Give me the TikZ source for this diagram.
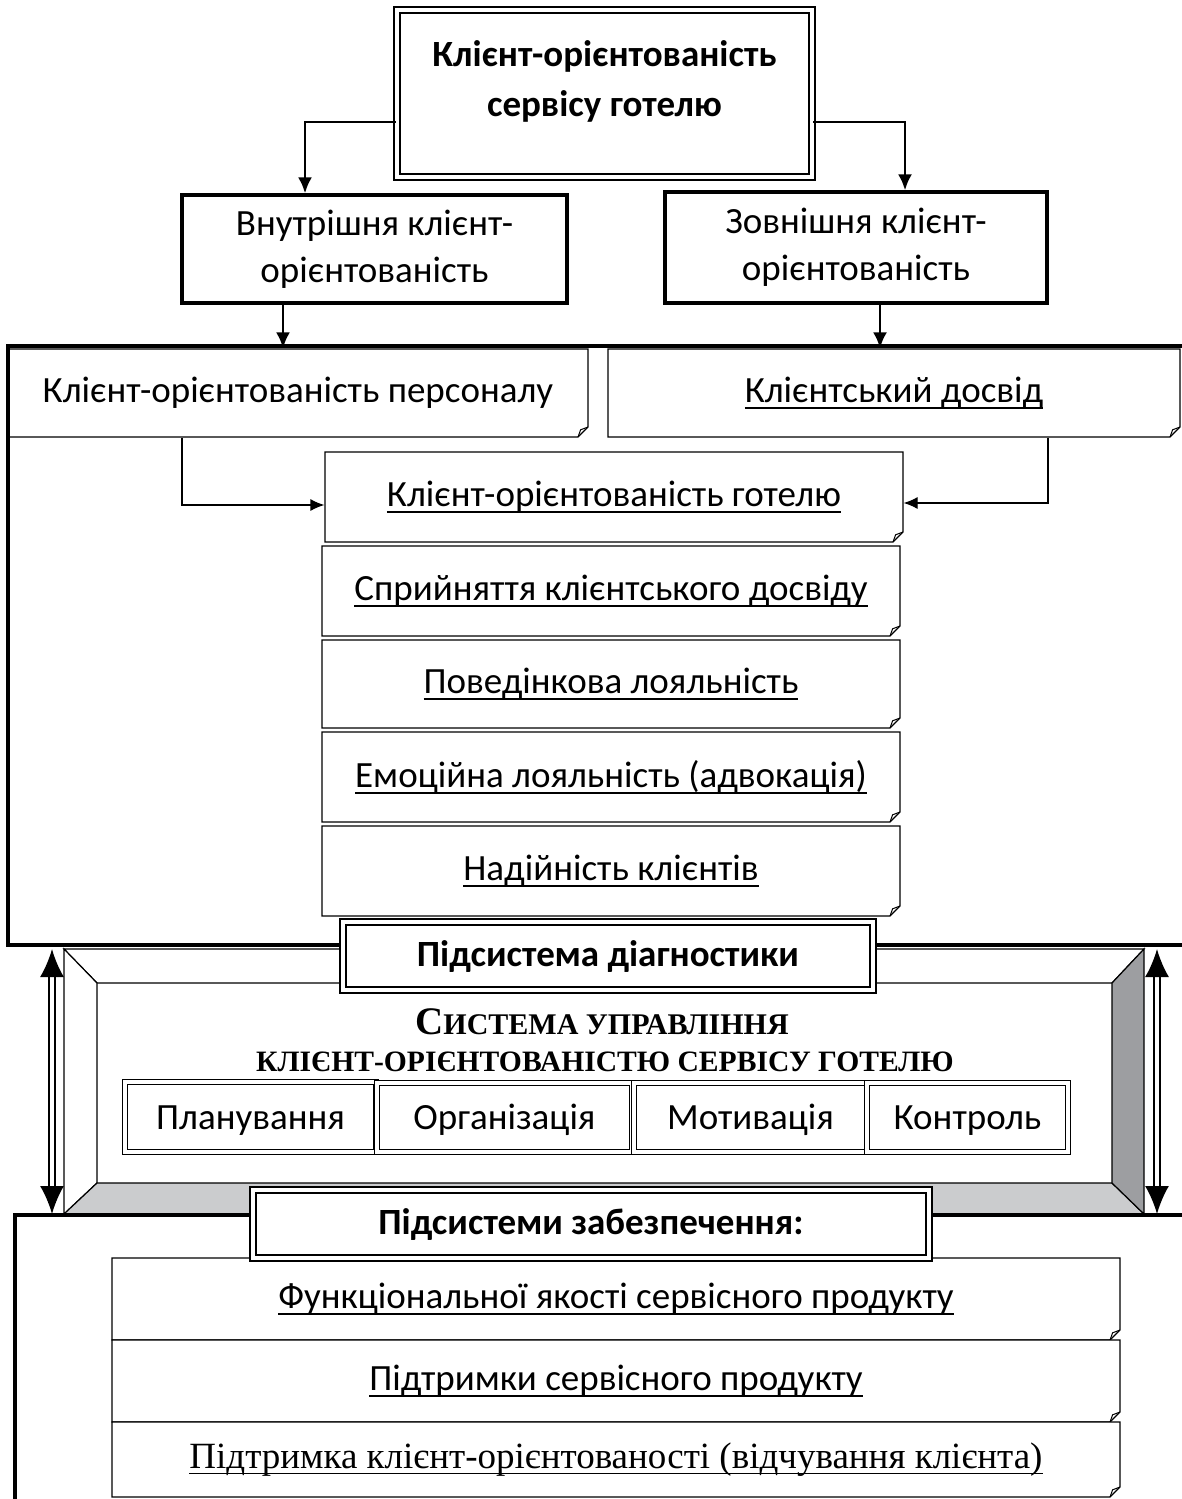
\documentclass[tikz,border=0pt]{standalone}
\usepackage{fontspec}
\setmainfont{Carlito}
\newfontfamily\timesfont{Liberation Serif}
\usepackage{xcolor}
\usetikzlibrary{arrows.meta}
\usetikzlibrary{shapes.misc}

\definecolor{bevlight}{RGB}{203,204,206}
\definecolor{bevdark}{RGB}{157,158,161}

\newcommand{\uln}[1]{\setbox0=\hbox{#1}\rlap{\rule[-3pt]{\wd0}{0.9pt}}\box0}

\tikzset{
  txt/.style={font=\fontsize{18.5}{23.5}\selectfont},
  boldtxt/.style={font=\bfseries\fontsize{18.5}{23.5}\selectfont},
}

\begin{document}
\begin{tikzpicture}[x=0.5pt,y=-0.5pt,
  frame/.style={line width=2pt},
  thickbox/.style={draw,line width=1.6pt,fill=white,align=center,txt},
  dblbox/.style={draw,line width=1.1pt,double,double distance=1.6pt,fill=white,inner sep=0pt},
  rowbox/.style={draw,line width=0.9pt,double,double distance=1.6pt,fill=white,inner sep=0pt,txt,
    text height=13pt,text depth=1pt},
  note/.style={draw,line width=0.6pt,fill=white,inner sep=0pt,txt,
    chamfered rectangle,chamfered rectangle corners=south east,chamfered rectangle sep=2.5pt,
    path picture={\draw[line width=0.5pt] ([xshift=-5pt]path picture bounding box.south east)
      -- ++(1.3pt,3.6pt) -- ([yshift=5pt]path picture bounding box.south east);}},
  conn/.style={line width=1.4pt,-{Latex[length=8pt,width=7pt]}},
  link/.style={line width=0.6pt,-{Latex[length=7pt,width=6pt]}},
  updown/.style={line width=1pt,double,double distance=1.6pt,
    {Latex[length=14pt,width=12pt]}-{Latex[length=14pt,width=12pt]}}]
		\useasboundingbox (0,0) rectangle (1182,1499);
		% upper part
		\node[dblbox,minimum width=207.5pt,minimum height=83.5pt,
		  label={[boldtxt,align=center,yshift=6pt,font=\bfseries\fontsize{18.5}{25}\selectfont]center:{Клієнт-орієнтованість\\сервісу готелю}}] (top) at (604.5,93.5) {};
		\node[thickbox,minimum width=192.5pt,minimum height=54pt] (inner) at (374.5,249) {Внутрішня клієнт-\\орієнтованість};
		\node[thickbox,minimum width=191pt,minimum height=55.5pt] (outer) at (856,247.5) {Зовнішня клієнт-\\орієнтованість};
		\draw[conn] (top.west |- 0,122) -| (inner.north -| 305,0);
		\draw[conn] (top.east |- 0,122) -| (outer.north -| 905,0);
		\node[note,minimum width=290pt,minimum height=44pt] (pers) at (298,393) {Клієнт-орієнтованість персоналу};
		\node[note,minimum width=286pt,minimum height=44pt] (exp) at (894,393) {\uln{Клієнтський досвід}};
		\node[note,minimum width=289pt,minimum height=45pt] (hotel) at (614,497) {\uln{Клієнт-орієнтованість готелю}};
		\node[note,minimum width=289pt,minimum height=45pt] (perc) at (611,591) {\uln{Сприйняття клієнтського досвіду}};
		\node[note,minimum width=289pt,minimum height=44pt] (behav) at (611,684) {\uln{Поведінкова лояльність}};
		\node[note,minimum width=289pt,minimum height=45pt] (emo) at (611,777) {\uln{Емоційна лояльність (адвокація)}};
		\node[note,minimum width=289pt,minimum height=45pt] (trust) at (611,871) {\uln{Надійність клієнтів}};
		\draw[conn] (inner.south -| 283,0) -- (pers.north -| 283,0);
		\draw[conn] (outer.south -| 880,0) -- (exp.north -| 880,0);
		\draw[link] (pers.south -| 182,0) |- (hotel.west |- 0,505);
		\draw[link] (exp.south -| 1048,0) |- (hotel.east |- 0,503);
		% management system frame
		\filldraw[fill=white,line width=0.6pt] (64,949) -- (1144,949) -- (1112,983) -- (97,983) -- cycle;
		\filldraw[fill=white,line width=0.6pt] (64,949) -- (97,983) -- (97,1183) -- (64,1214) -- cycle;
		\filldraw[fill=bevlight,line width=0.6pt] (64,1214) -- (97,1183) -- (1112,1183) -- (1144,1214) -- cycle;
		\filldraw[fill=bevdark,line width=0.6pt] (1144,949) -- (1112,983) -- (1112,1183) -- (1144,1214) -- cycle;
		\draw[frame] (343,945) -- (8,945) -- (8,346) -- (1190,346);
		\draw[frame] (873,945) -- (1190,945);
		\node[dblbox,minimum width=265pt,minimum height=34pt,boldtxt] (diag) at (608,956) {Підсистема діагностики};
		\node[font=\timesfont\bfseries\fontsize{15}{17}\selectfont] (sys1) at (602,1022) {{\fontsize{19.5}{20}\selectfont С}ИСТЕМА УПРАВЛІННЯ};
		\node[font=\timesfont\bfseries\fontsize{14.8}{17}\selectfont] (sys2) at (605,1062) {КЛІЄНТ-ОРІЄНТОВАНІСТЮ СЕРВІСУ ГОТЕЛЮ};
		\node[rowbox,minimum width=125.5pt,minimum height=35pt] (plan) at (250.5,1117) {Планування};
		\node[rowbox,minimum width=127.5pt,minimum height=34.5pt] (org) at (504.5,1117.5) {Організація};
		\node[rowbox,minimum width=116.5pt,minimum height=34.5pt] (mot) at (750.5,1117.5) {Мотивація};
		\node[rowbox,minimum width=100.5pt,minimum height=34.5pt] (ctrl) at (967.5,1117.5) {Контроль};
		\coordinate (la) at (52,949);
		\coordinate (lb) at (52,1214);
		\coordinate (ra) at (1157,949);
		\coordinate (rb) at (1157,1214);
		\draw[updown] (la) -- (lb);
		\draw[updown] (ra) -- (rb);
		% lower part
		\draw[frame] (255,1215) -- (15,1215) -- (15,1510);
		\draw[frame] (927,1215) -- (1190,1215);
		\node[note,minimum width=504pt,minimum height=41pt] (func) at (616,1299) {\uln{Функціональної якості сервісного продукту}};
		\node[note,minimum width=504pt,minimum height=41pt] (prod) at (616,1381) {\uln{Підтримки сервісного продукту}};
		\node[note,minimum width=504pt,minimum height=37.5pt] (feel) at (616,1459.5) {\timesfont\uln{Підтримка клієнт-орієнтованості (відчування клієнта)}};
		\node[dblbox,minimum width=338pt,minimum height=34pt,boldtxt] (supp) at (591,1224) {Підсистеми забезпечення:};
	\end{tikzpicture}
\end{document}
